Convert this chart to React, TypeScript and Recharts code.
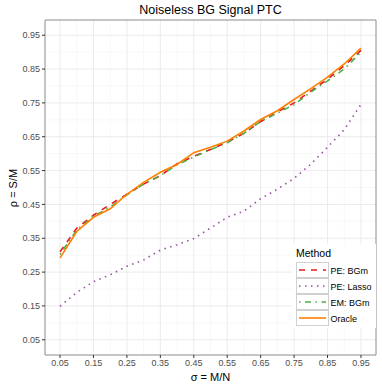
import { LineChart, Line, XAxis, YAxis, CartesianGrid, ReferenceArea } from 'recharts';

const sigma = [0.05, 0.1, 0.15, 0.2, 0.25, 0.3, 0.35, 0.4, 0.45, 0.5, 0.55, 0.6, 0.65, 0.7, 0.75, 0.8, 0.85, 0.9, 0.95];
const peBgm = [0.31, 0.38, 0.418, 0.45, 0.48, 0.51, 0.535, 0.57, 0.592, 0.612, 0.635, 0.66, 0.695, 0.723, 0.75, 0.785, 0.82, 0.86, 0.905];
const peLasso = [0.149, 0.19, 0.222, 0.242, 0.267, 0.286, 0.315, 0.331, 0.349, 0.38, 0.412, 0.43, 0.467, 0.495, 0.527, 0.569, 0.619, 0.671, 0.745];
const emBgm = [0.302, 0.375, 0.415, 0.442, 0.478, 0.51, 0.535, 0.567, 0.59, 0.612, 0.632, 0.66, 0.695, 0.72, 0.745, 0.782, 0.815, 0.85, 0.9];
const oracle = [0.292, 0.37, 0.412, 0.437, 0.48, 0.515, 0.545, 0.568, 0.603, 0.619, 0.637, 0.667, 0.701, 0.727, 0.76, 0.792, 0.826, 0.865, 0.912];

const majorTicks = [0.05, 0.15, 0.25, 0.35, 0.45, 0.55, 0.65, 0.75, 0.85, 0.95];
const minorTicks = [0.1, 0.2, 0.3, 0.4, 0.5, 0.6, 0.7, 0.8, 0.9];

const series = [
  { key: 'peBgm', name: 'PE: BGm', color: '#E41A1C', dash: '6 6' },
  { key: 'peLasso', name: 'PE: Lasso', color: '#984EA3', dash: '1.5 4.5' },
  { key: 'emBgm', name: 'EM: BGm', color: '#4DAF4A', dash: '1.5 4.5 6 4.5' },
  { key: 'oracle', name: 'Oracle', color: '#FF7F00', dash: undefined as string | undefined },
];

const data = sigma.map((s, i) => ({
  sigma: s,
  peBgm: peBgm[i],
  peLasso: peLasso[i],
  emBgm: emBgm[i],
  oracle: oracle[i],
}));

const W = 382;
const H = 388;
const font = '"Liberation Sans", Arial, sans-serif';
const dom: [number, number] = [0.005, 0.995];

// panel: x 45..376, y 20..355
export default function App() {
  return (
    <div style={{ position: 'absolute', left: 0, top: 0, width: W, height: H, background: '#fff', fontFamily: font }}>
      <LineChart width={W} height={H} data={data} margin={{ top: 20, right: 6, bottom: 13, left: 5 }}>
        <CartesianGrid
          stroke="#f3f3f3"
          strokeWidth={0.6}
          horizontalValues={minorTicks}
          verticalValues={minorTicks}
        />
        <CartesianGrid
          stroke="#ebebeb"
          strokeWidth={1}
          horizontalValues={majorTicks}
          verticalValues={majorTicks}
        />
        <XAxis
          dataKey="sigma"
          type="number"
          domain={dom}
          ticks={majorTicks}
          allowDataOverflow
          height={20}
          axisLine={false}
          tickLine={{ stroke: '#333' }}
          tickSize={3}
          tick={{ fill: '#4d4d4d', fontSize: 9, fontFamily: font }}
          tickFormatter={(v: number) => v.toFixed(2)}
        />
        <YAxis
          type="number"
          domain={dom}
          ticks={majorTicks}
          allowDataOverflow
          width={40}
          axisLine={false}
          tickLine={{ stroke: '#333' }}
          tickSize={3}
          tick={{ fill: '#4d4d4d', fontSize: 9, fontFamily: font }}
          tickFormatter={(v: number) => v.toFixed(2)}
        />
        {series.map((s) => (
          <Line
            key={s.key}
            dataKey={s.key}
            type="linear"
            stroke={s.color}
            strokeWidth={1.6}
            strokeDasharray={s.dash}
            dot={false}
            isAnimationActive={false}
          />
        ))}
        <ReferenceArea x1={dom[0]} x2={dom[1]} y1={dom[0]} y2={dom[1]} fill="none" stroke="#8c8c8c" strokeWidth={1} />
      </LineChart>
      <svg width={W} height={H} style={{ position: 'absolute', left: 0, top: 0, pointerEvents: 'none' }}>
        <text x={210.5} y={14} textAnchor="middle" fontSize={12.5} fontFamily={font} fill="#000">
          Noiseless BG Signal PTC
        </text>
        <text x={210.5} y={381} textAnchor="middle" fontSize={11} fontFamily={font} fill="#000">
          σ = M/N
        </text>
        <text
          x={17}
          y={188}
          textAnchor="middle"
          fontSize={11}
          fontFamily={font}
          fill="#000"
          transform="rotate(-90 17 188)"
        >
          ρ = S/M
        </text>
        <g>
          <rect x={292} y={244} width={84} height={84} fill="#fff" />
          <text x={296} y={257} fontSize={10.5} fontFamily={font} fill="#000">Method</text>
          {series.map((s, i) => {
            const y0 = 262 + i * 16;
            return (
              <g key={s.key}>
                <rect x={296.5} y={y0 + 0.5} width={32} height={15} fill="#fff" stroke="#d0d0d0" strokeWidth={1} />
                <line
                  x1={299}
                  x2={326}
                  y1={y0 + 8}
                  y2={y0 + 8}
                  stroke={s.color}
                  strokeWidth={1.6}
                  strokeDasharray={s.dash}
                />
                <text x={330.5} y={y0 + 11.5} fontSize={9} fontFamily={font} fill="#000">{s.name}</text>
              </g>
            );
          })}
        </g>
      </svg>
    </div>
  );
}
